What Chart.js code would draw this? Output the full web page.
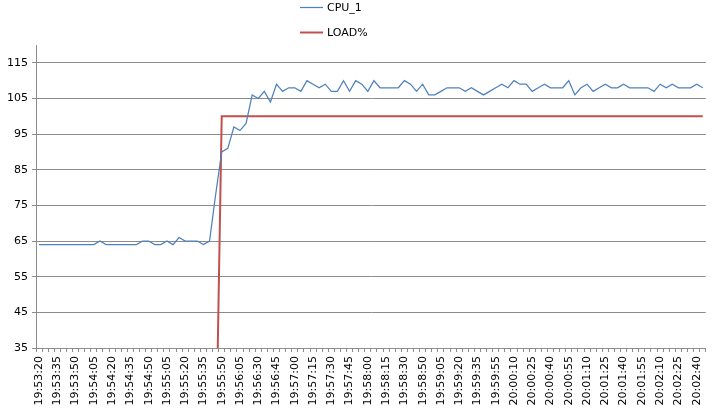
<!DOCTYPE html>
<html>
<head>
<meta charset="utf-8">
<script src="https://cdn.jsdelivr.net/npm/chart.js@4/dist/chart.umd.min.js"></script>
<style>
  html, body { margin: 0; padding: 0; background: #ffffff; }
  #wrap { width: 720px; height: 410px; position: relative; }
</style>
</head>
<body>
<div id="wrap"><canvas id="c" width="720" height="410"></canvas></div>
<script>
const categories = [
  "19:53:20","19:53:25","19:53:30","19:53:35","19:53:40","19:53:45","19:53:50","19:53:55","19:54:00","19:54:05",
  "19:54:10","19:54:15","19:54:20","19:54:25","19:54:30","19:54:35","19:54:40","19:54:45","19:54:50","19:54:55",
  "19:55:00","19:55:05","19:55:10","19:55:15","19:55:20","19:55:25","19:55:30","19:55:35","19:55:40","19:55:45",
  "19:55:50","19:55:55","19:56:00","19:56:05","19:56:10","19:56:20","19:56:30","19:56:35","19:56:40","19:56:45",
  "19:56:50","19:56:55","19:57:00","19:57:05","19:57:10","19:57:15","19:57:20","19:57:25","19:57:30","19:57:35",
  "19:57:40","19:57:45","19:57:50","19:57:55","19:58:00","19:58:05","19:58:10","19:58:15","19:58:20","19:58:25",
  "19:58:30","19:58:35","19:58:45","19:58:50","19:58:55","19:59:00","19:59:05","19:59:10","19:59:15","19:59:20",
  "19:59:25","19:59:30","19:59:35","19:59:40","19:59:50","19:59:55","20:00:00","20:00:05","20:00:10","20:00:15",
  "20:00:20","20:00:25","20:00:30","20:00:35","20:00:40","20:00:45","20:00:50","20:00:55","20:01:00","20:01:05",
  "20:01:10","20:01:15","20:01:20","20:01:25","20:01:30","20:01:35","20:01:40","20:01:45","20:01:50","20:01:55",
  "20:02:00","20:02:05","20:02:10","20:02:15","20:02:20","20:02:25","20:02:30","20:02:35","20:02:40","20:02:45"
];

const cpu1 = [
  64,64,64,64,64,64,64,64,64,64,
  65,64,64,64,64,64,64,65,65,64,
  64,65,64,66,65,65,65,64,65,78,
  90,91,97,96,98,106,105,107,104,109,
  107,108,108,107,110,109,108,109,107,107,
  110,107,110,109,107,110,108,108,108,108,
  110,109,107,109,106,106,107,108,108,108,
  107,108,107,106,107,108,109,108,110,109,
  109,107,108,109,108,108,108,110,106,108,
  109,107,108,109,108,108,109,108,108,108,
  108,107,109,108,109,108,108,108,109,108
];

const loadPct = [
  0,0,0,0,0,0,0,0,0,0,
  0,0,0,0,0,0,0,0,0,0,
  0,0,0,0,0,0,0,0,0,0,
  100,100,100,100,100,100,100,100,100,100,
  100,100,100,100,100,100,100,100,100,100,
  100,100,100,100,100,100,100,100,100,100,
  100,100,100,100,100,100,100,100,100,100,
  100,100,100,100,100,100,100,100,100,100,
  100,100,100,100,100,100,100,100,100,100,
  100,100,100,100,100,100,100,100,100,100,
  100,100,100,100,100,100,100,100,100,100
];

const yTickValues = [35, 45, 55, 65, 75, 85, 95, 105, 115];
const seriesNames = ["CPU_1", "LOAD%"];

const FONT = "'DejaVu Sans', Verdana, sans-serif";
const GRID = "#8c8c8c";

const stackedLegend = {
  id: "stackedLegend",
  afterDraw(chart) {
    const ctx = chart.ctx;
    const rows = [7, 32];
    ctx.save();
    chart.data.datasets.forEach((ds, i) => {
      const y = rows[i];
      ctx.strokeStyle = ds.borderColor;
      ctx.lineWidth = ds.borderWidth;
      ctx.beginPath();
      ctx.moveTo(300, y + 0.5);
      ctx.lineTo(323, y + 0.5);
      ctx.stroke();
      ctx.fillStyle = "#000000";
      ctx.font = "11px " + FONT;
      ctx.textAlign = "left";
      ctx.textBaseline = "middle";
      ctx.fillText(ds.label, 327, y + 1);
    });
    ctx.restore();
  }
};

new Chart(document.getElementById("c"), {
  type: "line",
  data: {
    labels: categories,
    datasets: [
      {
        label: seriesNames[0],
        data: cpu1,
        borderColor: "rgb(79,129,189)",
        borderWidth: 1.25,
        pointRadius: 0,
        tension: 0,
        fill: false
      },
      {
        label: seriesNames[1],
        data: loadPct,
        borderColor: "rgb(192,80,77)",
        borderWidth: 2,
        pointRadius: 0,
        tension: 0,
        fill: false
      }
    ]
  },
  options: {
    responsive: false,
    animation: false,
    devicePixelRatio: 1,
    layout: { padding: { top: 45, right: 14, left: 0, bottom: 0 } },
    plugins: {
      legend: { display: false },
      tooltip: { enabled: false }
    },
    scales: {
      x: {
        type: "category",
        offset: true,
        grid: {
          offset: true,
          drawOnChartArea: false,
          drawTicks: true,
          tickLength: 4,
          color: GRID
        },
        border: { color: GRID, width: 1 },
        ticks: {
          autoSkip: false,
          minRotation: 90,
          maxRotation: 90,
          padding: 4,
          color: "#000000",
          font: { family: FONT, size: 11 },
          callback: function (value, index) {
            return index % 3 === 0 ? this.getLabelForValue(value) : "";
          }
        },
        afterFit(scale) { scale.height = 62; }
      },
      y: {
        type: "linear",
        min: 35,
        max: 120,
        grid: {
          drawTicks: true,
          tickLength: 4,
          color: GRID,
          lineWidth: 1
        },
        border: { color: GRID, width: 1 },
        ticks: {
          color: "#000000",
          padding: 4,
          font: { family: FONT, size: 11 }
        },
        afterBuildTicks(scale) {
          scale.ticks = yTickValues.map(v => ({ value: v }));
        },
        afterFit(scale) { scale.width = 36; }
      }
    }
  },
  plugins: [stackedLegend]
});
</script>
</body>
</html>
